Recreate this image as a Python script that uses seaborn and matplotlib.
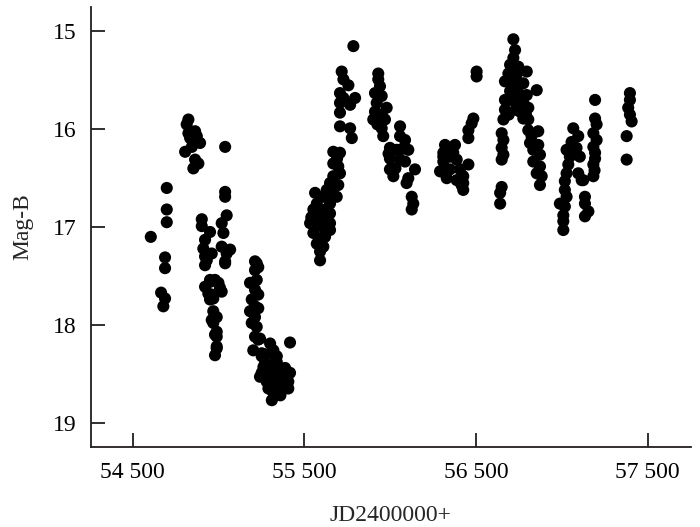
import numpy as np
import pandas as pd
import matplotlib
matplotlib.use('Agg')
import matplotlib.pyplot as plt
from matplotlib.ticker import FuncFormatter
import seaborn as sns

# Кривая блеска, полоса B: JD и звёздная величина по сезонам наблюдений
jd_s1 = [54605, 54698, 54698, 54698, 54688, 54688, 54665, 54688, 54678]
mag_s1 = [17.10, 16.60, 16.82, 16.95, 17.31, 17.42, 17.67, 17.73, 17.81]

jd_s2 = [54824, 54814, 54824, 54863, 54834, 54873, 54892, 54844, 54805, 54863,
         54882, 54853, 55038, 55038, 55038, 55047, 55018, 55028, 55018, 55067,
         55038, 55047, 55038, 54902, 54902, 54950, 54921, 54911, 54921, 54921,
         54960, 54931, 54950, 54921, 54999, 55018, 54960, 54950, 54950, 54979,
         55008, 54940, 54969, 54969, 54989, 54969, 54989, 54989, 54989, 54979,
         54960, 54979, 54989]
mag_s2 = [15.90, 15.95, 16.04, 16.02, 16.09, 16.07, 16.14, 16.18, 16.23, 16.31,
          16.35, 16.40, 16.18, 16.64, 16.69, 16.88, 16.96, 17.06, 17.20, 17.23,
          17.35, 17.27, 17.37, 16.92, 16.99, 17.05, 17.13, 17.22, 17.30, 17.39,
          17.27, 17.34, 17.54, 17.61, 17.57, 17.66, 17.69, 17.74, 17.56, 17.54,
          17.62, 17.68, 17.73, 17.86, 17.92, 17.98, 18.07, 18.12, 18.22, 18.31,
          17.95, 18.10, 18.24]

jd_s3 = [55212, 55231, 55222, 55183, 55212, 55231, 55193, 55212, 55183, 55212,
         55193, 55222, 55212, 55231, 55202, 55222, 55212, 55231, 55241, 55300,
         55251, 55310, 55339, 55271, 55251, 55310, 55251, 55319, 55339, 55261,
         55300, 55387, 55416, 55241, 55319, 55368, 55406, 55280, 55339, 55310,
         55368, 55406, 55329, 55310, 55358, 55416, 55290, 55350, 55380, 55290,
         55270, 55330, 55360, 55395]
mag_s3 = [17.35, 17.41, 17.54, 17.57, 17.64, 17.69, 17.74, 17.81, 17.86, 17.92,
          17.98, 18.02, 18.12, 18.15, 18.26, 17.37, 17.44, 17.83, 18.14, 18.19,
          18.29, 18.29, 18.38, 18.39, 18.49, 18.48, 18.32, 18.26, 18.32, 18.43,
          18.41, 18.44, 18.49, 18.53, 18.53, 18.55, 18.58, 18.58, 18.61, 18.67,
          18.67, 18.65, 18.72, 18.77, 18.61, 18.18, 18.50, 18.48, 18.60, 18.65,
          18.30, 18.45, 18.72, 18.50]

jd_s4 = [55785, 55717, 55727, 55756, 55707, 55727, 55795, 55707, 55766, 55707,
         55707, 55766, 55776, 55668, 55707, 55668, 55697, 55668, 55707, 55649,
         55697, 55630, 55688, 55562, 55610, 55649, 55572, 55620, 55552, 55649,
         55591, 55533, 55649, 55572, 55620, 55552, 55649, 55601, 55572, 55610,
         55591, 55591, 55600, 55630, 55580, 55540, 55620, 55660, 55690]
mag_s4 = [15.15, 15.41, 15.49, 15.55, 15.63, 15.68, 15.68, 15.73, 15.75, 15.83,
          15.97, 15.99, 16.09, 16.23, 16.24, 16.35, 16.38, 16.48, 16.45, 16.55,
          16.57, 16.62, 16.69, 16.65, 16.69, 16.76, 16.76, 16.82, 16.82, 16.86,
          16.89, 16.96, 16.96, 16.99, 17.03, 17.06, 17.03, 17.11, 17.17, 17.20,
          17.25, 17.34, 16.95, 16.90, 16.85, 16.90, 17.10, 16.65, 16.30]

jd_s5 = [55930, 55930, 55940, 55911, 55950, 55921, 55979, 55911, 55950, 55901,
         55969, 55950, 55959, 56057, 56057, 56086, 55998, 56037, 56105, 55998,
         56057, 56086, 55998, 56018, 56144, 56105, 56095, 56125, 56134, 56125,
         55925, 55990, 56030, 56070]
mag_s5 = [15.43, 15.49, 15.56, 15.63, 15.66, 15.73, 15.78, 15.82, 15.85, 15.90,
          15.90, 15.99, 16.07, 15.97, 16.07, 16.11, 16.19, 16.21, 16.21, 16.30,
          16.31, 16.33, 16.41, 16.48, 16.41, 16.50, 16.55, 16.69, 16.76, 16.82,
          15.95, 16.25, 16.40, 16.20]

jd_s6 = [56503, 56503, 56484, 56474, 56455, 56455, 56319, 56377, 56309, 56367,
         56309, 56387, 56455, 56300, 56348, 56406, 56329, 56387, 56425, 56425,
         56309, 56348, 56290, 56425, 56415]
mag_s6 = [15.41, 15.46, 15.89, 15.94, 16.01, 16.09, 16.16, 16.16, 16.24, 16.24,
          16.33, 16.31, 16.36, 16.43, 16.41, 16.41, 16.50, 16.52, 16.55, 16.62,
          16.28, 16.28, 16.43, 16.48, 16.57]

jd_s7 = [56717, 56727, 56717, 56698, 56746, 56688, 56736, 56795, 56668, 56717,
         56775, 56853, 56698, 56746, 56795, 56668, 56727, 56775, 56804, 56668,
         56756, 56775, 56804, 56659, 56804, 56862, 56649, 56823, 56659, 56814,
         56862, 56649, 56833, 56659, 56872, 56649, 56833, 56872, 56853, 56882,
         56872, 56649, 56640, 56640, 56700, 56740, 56700, 56760, 56690, 56790,
         56730]
mag_s7 = [15.08, 15.19, 15.27, 15.34, 15.36, 15.43, 15.44, 15.41, 15.51, 15.53,
          15.53, 15.60, 15.61, 15.63, 15.65, 15.70, 15.72, 15.73, 15.78, 15.80,
          15.82, 15.89, 15.90, 15.90, 16.01, 16.02, 16.04, 16.07, 16.11, 16.14,
          16.16, 16.19, 16.21, 16.26, 16.26, 16.31, 16.33, 16.38, 16.45, 16.48,
          16.57, 16.59, 16.65, 16.76, 15.50, 15.60, 15.70, 15.75, 15.85, 15.85,
          15.80]

jd_s8 = [57066, 57095, 57056, 57027, 57085, 57046, 57104, 57037, 57027, 57095,
         57115, 57017, 57017, 57027, 56988, 57017, 57008, 57008, 57008, 57134,
         57134, 57154, 57134, 57193, 57193, 57202, 57183, 57202, 57183, 57193,
         57183, 57183, 57124, 57193, 57190]
mag_s8 = [15.99, 16.07, 16.13, 16.21, 16.19, 16.28, 16.28, 16.36, 16.45, 16.45,
          16.52, 16.53, 16.62, 16.69, 16.76, 16.79, 16.88, 16.94, 17.03, 16.69,
          16.76, 16.84, 16.89, 15.70, 15.89, 15.95, 16.04, 16.11, 16.18, 16.24,
          16.36, 16.48, 16.52, 16.30, 16.42]

jd_s9 = [57396, 57396, 57386, 57396, 57406, 57377, 57377]
mag_s9 = [15.63, 15.70, 15.78, 15.85, 15.92, 16.07, 16.31]

x_ticks = [54500, 55500, 56500, 57500]
y_ticks = [15, 16, 17, 18, 19]

jd = jd_s1 + jd_s2 + jd_s3 + jd_s4 + jd_s5 + jd_s6 + jd_s7 + jd_s8 + jd_s9
mag = mag_s1 + mag_s2 + mag_s3 + mag_s4 + mag_s5 + mag_s6 + mag_s7 + mag_s8 + mag_s9
df = pd.DataFrame({'jd': jd, 'mag': mag})

sns.set_style('ticks')
plt.rcParams['font.family'] = ['Liberation Serif', 'DejaVu Serif']

INK = '#231f20'
fig = plt.figure(figsize=(7, 5.27), dpi=100)
ax = fig.add_axes([0.1296, 0.1524, 0.8571, 0.8343])
sns.scatterplot(data=df, x='jd', y='mag', color='black', s=76,
                edgecolor='none', linewidth=0, ax=ax)

ax.set_xlim(54255, 57750)
ax.set_ylim(19.245, 14.75)
ax.set_xticks(x_ticks)
ax.set_yticks(y_ticks)
ax.xaxis.set_major_formatter(FuncFormatter(lambda v, p: f'{int(v):,}'.replace(',', ' ')))
ax.tick_params(direction='in', length=10, width=1.3, colors=INK,
               labelsize=17, labelcolor='black')
ax.tick_params(axis='x', pad=11)
ax.tick_params(axis='y', pad=10)
sns.despine(ax=ax)
for sp in ['left', 'bottom']:
    ax.spines[sp].set_linewidth(1.3)
    ax.spines[sp].set_color(INK)

ax.set_xlabel('JD2400000+', fontsize=17, labelpad=16)
ax.set_ylabel('Mag-B', fontsize=17, labelpad=14)

plt.savefig('out.png', dpi=100)
plt.close()
